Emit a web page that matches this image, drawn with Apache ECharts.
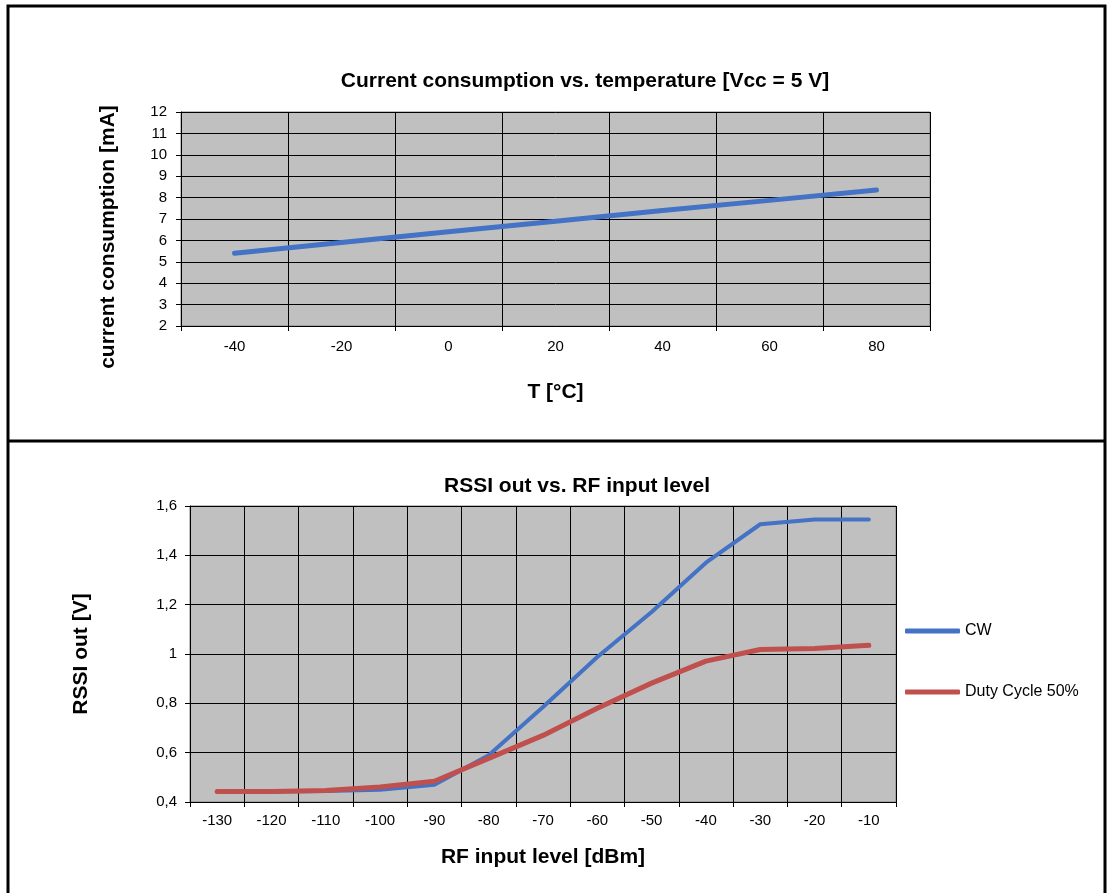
<!DOCTYPE html>
<html>
<head>
<meta charset="utf-8">
<script src="https://cdn.jsdelivr.net/npm/echarts@6/dist/echarts.min.js"></script>
<style>
  html, body { margin: 0; padding: 0; background: #fff; }
  #chart { width: 1108px; height: 893px; }
</style>
</head>
<body>
<div id="chart"></div>
<script>
// top chart: current vs temperature
const tempCategories = ['-40', '-20', '0', '20', '40', '60', '80'];
const currentValues = [5.4, 5.9, 6.4, 6.9, 7.4, 7.87, 8.36];

// bottom chart: RSSI vs RF input
const rfCategories = ['-130', '-120', '-110', '-100', '-90', '-80', '-70', '-60', '-50', '-40', '-30', '-20', '-10'];
const cwValues = [0.443, 0.443, 0.445, 0.45, 0.47, 0.59, 0.785, 0.988, 1.17, 1.37, 1.526, 1.545, 1.545];
const dutyValues = [0.443, 0.443, 0.447, 0.461, 0.484, 0.577, 0.67, 0.78, 0.882, 0.971, 1.018, 1.022, 1.035];

const chart = echarts.init(document.getElementById('chart'));
const font = 'Liberation Sans, Arial, sans-serif';
const commaFmt = v => String(Math.round(v * 10) / 10).replace('.', ',');

const catAxis = (idx, data) => ({
  type: 'category',
  gridIndex: idx,
  data: data,
  boundaryGap: true,
  axisLine: { lineStyle: { color: '#000', width: 1 } },
  axisTick: { show: true, length: 5, lineStyle: { color: '#000' } },
  axisLabel: { color: '#000', fontFamily: font, fontSize: 15, margin: 13 },
  splitLine: { show: true, lineStyle: { color: '#000', width: 1 } },
  nameLocation: 'middle',
  nameTextStyle: { color: '#000', fontFamily: font, fontSize: 21, fontWeight: 'bold' }
});

const valAxis = (idx, min, max, interval, fmt) => ({
  type: 'value',
  gridIndex: idx,
  min: min, max: max, interval: interval,
  axisLine: { show: true, lineStyle: { color: '#000', width: 1 } },
  axisTick: { show: true, length: 5, lineStyle: { color: '#000' } },
  axisLabel: { color: '#000', fontFamily: font, fontSize: 15, margin: 14, formatter: fmt },
  splitLine: { show: true, lineStyle: { color: '#000', width: 1 } },
  nameLocation: 'middle',
  nameRotate: 90,
  nameTextStyle: { color: '#000', fontFamily: font, fontSize: 21, fontWeight: 'bold' }
});

const xTop = catAxis(0, tempCategories);
xTop.name = 'T [°C]';
xTop.nameGap = 56;
const xBot = catAxis(1, rfCategories);
xBot.name = 'RF input level [dBm]';
xBot.nameGap = 45;
xBot.axisLabel.margin = 11;

// top y name is drawn as graphic text below (it sits lower than the axis middle)
const yTop = valAxis(0, 2, 12, 1, v => String(v));
const yBot = valAxis(1, 0.4, 1.6, 0.2, commaFmt);
yBot.name = 'RSSI out [V]';
yBot.nameGap = 98;
yBot.axisLabel.margin = 13;

chart.setOption({
  animation: false,
  textStyle: { fontFamily: font },
  title: [
    {
      text: 'Current consumption vs. temperature [Vcc = 5 V]',
      left: 580, top: 66, textAlign: 'center',
      textStyle: { fontFamily: font, fontSize: 21, fontWeight: 'bold', color: '#000' }
    },
    {
      text: 'RSSI out vs. RF input level',
      left: 572, top: 471, textAlign: 'center',
      textStyle: { fontFamily: font, fontSize: 21, fontWeight: 'bold', color: '#000' }
    }
  ],
  legend: {
    orient: 'vertical',
    left: 905, top: 623, padding: 0,
    itemWidth: 55, itemHeight: 5, itemGap: 45,
    icon: 'roundRect',
    textStyle: { fontFamily: font, fontSize: 16, color: '#000' },
    data: ['CW', 'Duty Cycle 50%']
  },
  grid: [
    { left: 181, top: 112, width: 749, height: 214, show: true, backgroundColor: '#c0c0c0', borderColor: '#808080', borderWidth: 1 },
    { left: 190, top: 506, width: 706, height: 296, show: true, backgroundColor: '#c0c0c0', borderColor: '#808080', borderWidth: 1 }
  ],
  xAxis: [xTop, xBot],
  yAxis: [yTop, yBot],
  graphic: [
    { type: 'rect', shape: { x: 8, y: 6, width: 1097, height: 900 }, style: { fill: 'none', stroke: '#000', lineWidth: 3 }, z: 100 },
    { type: 'line', shape: { x1: 8, y1: 441, x2: 1105, y2: 441 }, style: { stroke: '#000', lineWidth: 3 }, z: 100 },
    {
      type: 'text', x: 108, y: 237, rotation: Math.PI / 2,
      style: {
        text: 'current consumption [mA]', fill: '#000',
        font: 'bold 21px ' + font, textAlign: 'center', textVerticalAlign: 'middle'
      }
    }
  ],
  series: [
    {
      name: 'current', type: 'line', xAxisIndex: 0, yAxisIndex: 0,
      data: currentValues, symbol: 'none',
      lineStyle: { color: '#4472c4', width: 5, cap: 'round' }
    },
    {
      name: 'CW', type: 'line', xAxisIndex: 1, yAxisIndex: 1,
      data: cwValues, symbol: 'none', color: '#4472c4',
      lineStyle: { color: '#4472c4', width: 4, cap: 'round' }
    },
    {
      name: 'Duty Cycle 50%', type: 'line', xAxisIndex: 1, yAxisIndex: 1,
      data: dutyValues, symbol: 'none', color: '#c0504d',
      lineStyle: { color: '#c0504d', width: 5, cap: 'round' }
    }
  ]
});
</script>
</body>
</html>
